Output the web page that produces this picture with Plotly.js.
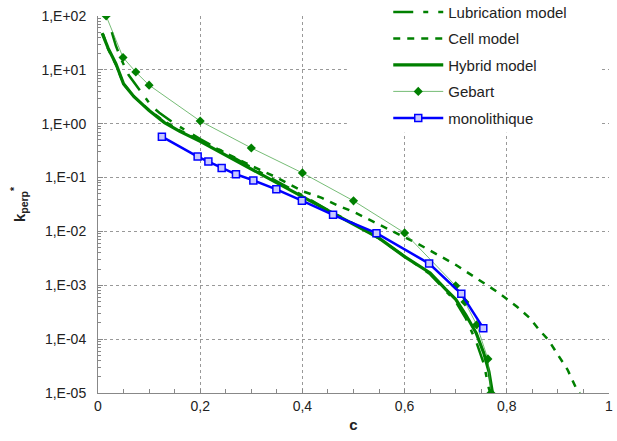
<!DOCTYPE html>
<html><head><meta charset="utf-8">
<script src="https://cdn.plot.ly/plotly-3.0.1.min.js"></script>
<style>html,body{margin:0;padding:0;background:#fff}#chart{width:617px;height:441px}</style>
</head><body><div id="chart"></div>
<script>
// Lubrication model
const lubC = [0.027, 0.035, 0.045, 0.06, 0.085, 0.105, 0.12, 0.15, 0.2, 0.25, 0.3, 0.35, 0.4, 0.45, 0.5, 0.55, 0.6, 0.65, 0.7, 0.72, 0.74, 0.755, 0.765, 0.768];
const lubK = [50, 28, 16, 8, 3.8, 2.1, 1.6, 1.0, 0.52, 0.28, 0.155, 0.085, 0.047, 0.025, 0.014, 0.0074, 0.0034, 0.0016, 5e-4, 2.4e-4, 9e-5, 3.5e-5, 1.2e-5, 1e-5];
// Cell model
const cellC = [0.01, 0.02, 0.035, 0.05, 0.07, 0.1, 0.13, 0.16, 0.2, 0.25, 0.3, 0.35, 0.4, 0.438, 0.467, 0.503, 0.536, 0.567, 0.6, 0.626, 0.655, 0.7, 0.74, 0.78, 0.82, 0.845, 0.862, 0.882, 0.9, 0.919, 0.937, 0.943];
const cellK = [46, 24, 12.5, 5.5, 3.2, 1.8, 1.1, 0.75, 0.49, 0.28, 0.165, 0.1, 0.056, 0.042, 0.031, 0.0224, 0.0155, 0.011, 0.0078, 0.0059, 0.0042, 0.0024, 0.00136, 7.7e-4, 4e-4, 2.46e-4, 1.54e-4, 9.5e-5, 5.1e-5, 2.7e-5, 1.15e-5, 1e-5];
// Hybrid model
const hybC = [0.008, 0.02, 0.035, 0.05, 0.07, 0.1, 0.13, 0.16, 0.2, 0.25, 0.3, 0.35, 0.4, 0.45, 0.5, 0.55, 0.6, 0.65, 0.68, 0.7, 0.72, 0.74, 0.755, 0.765, 0.772];
const hybK = [48, 25, 13, 5.5, 3.2, 1.75, 1.05, 0.72, 0.47, 0.26, 0.145, 0.08, 0.044, 0.024, 0.0135, 0.0075, 0.0034, 0.0017, 8.5e-4, 5.5e-4, 2.8e-4, 1.3e-4, 5.5e-5, 2.5e-5, 1e-5];
// Gebart
const gebC = [0.016, 0.049, 0.074, 0.1, 0.2, 0.3, 0.4, 0.5, 0.6, 0.7, 0.718, 0.741, 0.763, 0.769];
const gebK = [100, 17, 9.1, 5.2, 1.12, 0.355, 0.122, 0.037, 0.0094, 9.8e-4, 4.9e-4, 1.85e-4, 4.3e-5, 1e-5];
// monolithique
const monoC = [0.125, 0.195, 0.216, 0.242, 0.27, 0.304, 0.349, 0.399, 0.46, 0.545, 0.648, 0.711, 0.754];
const monoK = [0.575, 0.246, 0.198, 0.151, 0.115, 0.0887, 0.0604, 0.0372, 0.0203, 0.0093, 0.00253, 6.95e-4, 1.6e-4];

const xTickVals = [0, 0.2, 0.4, 0.6, 0.8, 1];
const xTickText = ["0", "0,2", "0,4", "0,6", "0,8", "1"];
const yTickVals = [1e-5, 1e-4, 1e-3, 1e-2, 1e-1, 1, 10, 100];
const yTickText = ["1,E-05", "1,E-04", "1,E-03", "1,E-02", "1,E-01", "1,E+00", "1,E+01", "1,E+02"];

const G = '#008000';
const yMinor = [];
for (let e = -5; e < 2; e++) for (let m = 2; m <= 9; m++) yMinor.push(m * Math.pow(10, e));

const traces = [
  {x: lubC, y: lubK, name: 'Lubrication model', mode: 'lines', legendgroup: 'a',
   line: {color: G, width: 2.5, dash: '20px,10px,5px,10px'}},
  {x: cellC, y: cellK, name: 'Cell model', mode: 'lines', legendgroup: 'b',
   line: {color: G, width: 2.5, dash: '7px,7px'}},
  {x: hybC, y: hybK, name: 'Hybrid model', mode: 'lines', legendgroup: 'c',
   line: {color: G, width: 3.2}},
  {x: gebC, y: gebK, name: 'Gebart', mode: 'lines+markers', legendgroup: 'd',
   line: {color: 'rgba(60,160,60,0.7)', width: 1},
   marker: {symbol: 'diamond', size: 7, color: G}},
  {x: monoC, y: monoK, name: 'monolithique', mode: 'lines+markers', legendgroup: 'e',
   line: {color: '#0000ff', width: 2.5},
   marker: {symbol: 'square', size: 7, color: '#c8c8ff', line: {color: '#0000ff', width: 1.5}}}
];

const layout = {
  width: 617, height: 441,
  margin: {l: 98, r: 8, t: 16, b: 48, autoexpand: false},
  paper_bgcolor: '#fff', plot_bgcolor: '#fff',
  font: {family: 'Liberation Sans, Arial, sans-serif', color: '#222', size: 14},
  showlegend: true,
  legend: {x: 0.568, y: 1.054, xanchor: 'left', yanchor: 'top', bgcolor: 'rgba(0,0,0,0)',
           font: {size: 15, color: '#222'}, itemwidth: 50, traceorder: 'grouped', tracegroupgap: 4},
  shapes: [{type: 'rect', xref: 'paper', yref: 'paper', x0: 0.487, x1: 0.985, y0: 0.69, y1: 1.02,
            fillcolor: '#ffffff', opacity: 1, line: {width: 0, color: '#ffffff'}, layer: 'above'}],
  xaxis: {range: [0, 1], tickmode: 'array', tickvals: xTickVals, ticktext: xTickText,
          showline: true, linecolor: '#888', linewidth: 1, zeroline: false,
          showgrid: true, gridcolor: '#999', griddash: 'dot', gridwidth: 1,
          ticks: 'inside', ticklen: 4, tickcolor: '#888',
          minor: {dtick: 0.05, ticks: 'inside', ticklen: 4, tickcolor: '#888', showgrid: false},
          title: {text: '<b>c</b>', font: {size: 15, color: '#222'}, standoff: 6}},
  yaxis: {type: 'log', range: [-5, 2], tickmode: 'array', tickvals: yTickVals, ticktext: yTickText,
          showline: true, linecolor: '#888', linewidth: 1, zeroline: false,
          showgrid: true, gridcolor: '#999', griddash: 'dot', gridwidth: 1,
          ticks: 'inside', ticklen: 5, tickcolor: '#888', ticklabelstandoff: 8,
          minor: {tickmode: 'array', tickvals: yMinor, ticks: 'inside', ticklen: 3, tickcolor: '#888', showgrid: false},
          title: {text: '<b>k<sub>perp</sub><sup>*</sup></b>', font: {size: 15, color: '#222'}, standoff: 12}}
};

Plotly.newPlot('chart', traces, layout, {displayModeBar: false, staticPlot: true});
</script>
</body></html>
